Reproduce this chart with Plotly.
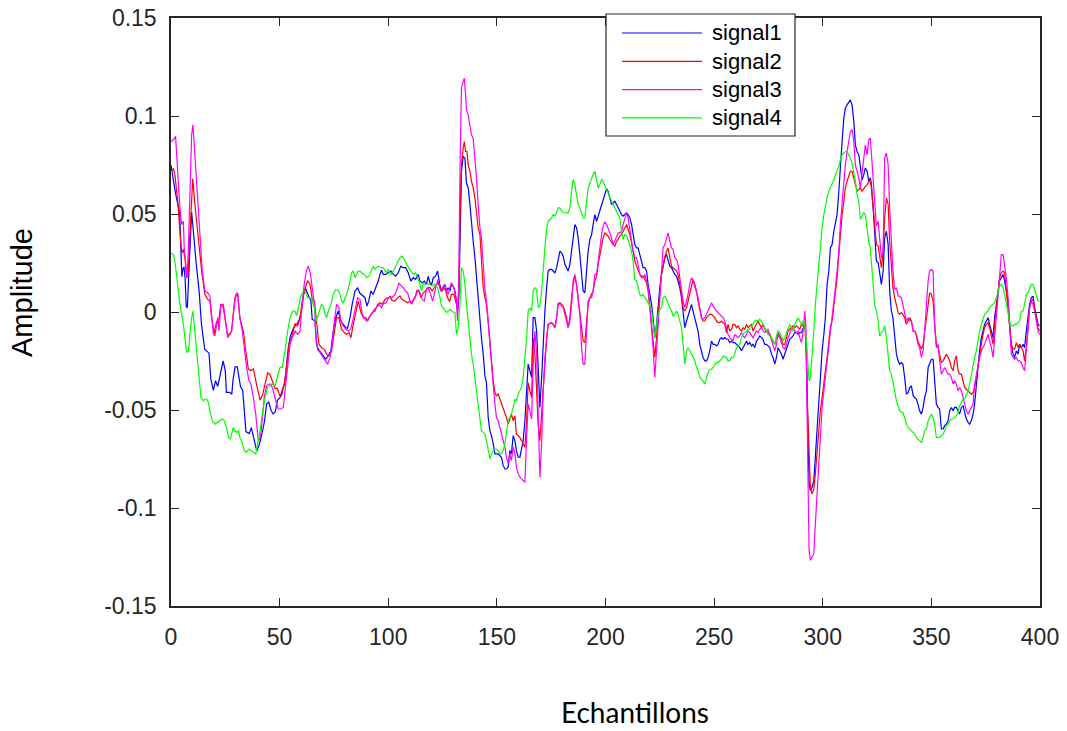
import plotly.graph_objects as go

# ---------------- data (sample index, amplitude) ----------------
SIGNAL1 = [
(0,0.075),(2,0.061),(4,0.050),(5,0.018),(5.5,0.022),(6,0.023),(6.5,0.017),(7,0.003),(7.5,0.002),(8.5,0.025),(9.5,0.051),(11.5,0.026),(13,0.010),(14,-0.006),(15,-0.014),(15.5,-0.019),(17.5,-0.021),(18.3,-0.034),(19.5,-0.040),(20.5,-0.035),(21.5,-0.038),(23,-0.029),(24,-0.025),(25,-0.030),(25.5,-0.041),(27,-0.041),(28,-0.042),(28.5,-0.035),(29.5,-0.028),(30.5,-0.028),(32,-0.038),(33,-0.040),(34.5,-0.061),(36,-0.062),(37,-0.059),(38,-0.064),(39.5,-0.071),(40.5,-0.068),(41.5,-0.064),(43,-0.056),(44,-0.047),(45,-0.046),(46,-0.050),(47,-0.052),(48,-0.051),(49,-0.045),(50,-0.044),(51,-0.042),(52.5,-0.035),(54,-0.018),(55,-0.012),(56.5,-0.008),(58,-0.006),(59,-0.004),(60,0.000),(61,0.009),(62,0.012),(63,0.009),
(64.4,0.0056),(65,-0.0037),(66.3,-0.0046),(67,-0.0165),(67.8,-0.019),(69,-0.0207),(70.1,-0.0224),(71.2,-0.024),(72.4,-0.0224),(73.6,-0.0198),(74.7,-0.0097),(75.8,-0.0029),(77,0.0005),(78.2,-0.0046),(79.3,-0.0063),(80.4,-0.008),(81.3,-0.0083),(82.4,-0.0029),(83.4,0.0039),(84.7,0.0107),(85.9,0.0124),(86.8,0.0098),(87.9,0.0087),(89.3,0.0073),(90.2,0.003),(91.1,0.0059),(92,0.0107),(93.1,0.009),(94.2,0.0124),(95.4,0.0158),(96.2,0.0192),(96.9,0.0214),(97.7,0.0192),(98.8,0.0192),(100,0.02),(101.2,0.0209),(102.3,0.0192),(103.4,0.0183),(104.6,0.02),(105.8,0.0234),(106.9,0.0226),(108,0.0226),(109.2,0.02),(110.4,0.0158),(111.5,0.0175),(112.6,0.0166),(113.8,0.0192),(114.6,0.0158),(115.6,0.0149),(116.6,0.0158),(117.6,0.0141),(118.4,0.0183),(119.2,0.0149),(120,0.0141),(120.7,0.0175),(121.8,0.0183),(122.7,0.0209),(123.3,0.0166),(124.2,0.0107),(125.3,0.0124),
(126.1,0.0141),(126.8,0.0107),(127.6,0.0124),(128.4,0.0107),(129.1,0.0141),(129.9,0.0132),(130.7,0.0107),(131.4,0.0056),(131.9,0.0005),(132.5,0.0073),(133,0.0378),(133.7,0.0718),(134.5,0.0794),(135.3,0.0785),(136,0.0658),(136.8,0.0633),(137.6,0.0548),(138.3,0.0446),(139.1,0.0361),(139.9,0.0277),(140.6,0.0175),(141.4,0.0073),(142.2,-0.0029),(142.9,-0.0131),(143.7,-0.0215),(144.5,-0.0326),(145.2,-0.036),(146,-0.0538),(146.8,-0.0606),(147.5,-0.0631),(148.3,-0.0673),(149.1,-0.0724),(150.6,-0.0724),(151.4,-0.0733),(152.1,-0.0741),(152.9,-0.0784),(153.7,-0.0801),(154.4,-0.0801),(155.2,-0.0792),(156,-0.0707),(156.7,-0.0724),(157.5,-0.0631),(158.3,-0.0656),(159,-0.0707),(159.8,-0.0741),(160.6,-0.0741),(161.3,-0.0707),(162.1,-0.0656),(162.9,-0.0555),(163.7,-0.0402),(164.4,-0.0266),(165.2,-0.03),(166,-0.0334),(166.7,-0.0029),(167.5,-0.0029),(168.3,-0.0097),(169,-0.0266),(169.8,-0.0487),(170.6,-0.0334),(171.3,-0.0148),(172.1,0.0005),(172.9,0.0124),(173.6,0.0209),(174.4,0.0217),(175.2,0.0217),(175.9,0.0209),(176.7,0.02),(177.5,0.0226),(178.2,0.0277),(179,0.031),(179.8,0.0302),(180.5,0.0285),(181.3,0.0243),(182.1,0.0226),(182.8,0.0209),(183.6,0.0243),(184.4,0.031),(185.1,0.0387),(185.9,0.0446),(186.7,0.0429),(187.4,0.0378),(188.2,0.0293),(189,0.0209),(189.7,0.0107),(190.5,0.0098),(191.3,0.0209),(192,0.031),(192.8,0.037),(193.6,0.0395),(194.3,0.0446),(195.1,0.0497),
(195.9,0.0463),(196.6,0.0489),(197.4,0.0514),(198.2,0.0539),(198.9,0.0565),(199.7,0.0599),(200.5,0.0629),(201.2,0.0616),(202,0.0582),(202.8,0.0548),(203.5,0.0556),(204.3,0.0565),(205.1,0.0548),(205.8,0.0531),(206.6,0.0514),(207.4,0.0497),(208.1,0.0489),(208.9,0.0497),(209.7,0.0506),(210.4,0.0497),(211.2,0.048),(212,0.0446),(212.7,0.0404),(213.5,0.0344),(214.3,0.0327),(215,0.0327),(215.8,0.0293),(216.6,0.026),(217.3,0.0226),(218.1,0.0226),(218.9,0.0209),(219.6,0.0141),(220.4,0.009),(221.2,0.0039),(221.9,-0.0029),(222.7,-0.0131),(223.5,-0.0063),(224.2,0.0039),(225,0.0124),(225.8,0.0192),(226.5,0.0243),(227.3,0.0277),(228.1,0.0293),(228.8,0.026),(229.6,0.0234),(230.4,0.0226),(231.1,0.0209),(231.9,0.0192),(232.7,0.0183),(233.4,0.0158),(234.2,0.0124),(235,0.0073),(235.7,0.0005),(236.5,-0.008),(237.3,-0.0046),(238,-0.002),(238.8,0.0005),(239.6,0.0039),(240.3,0.0005),(241.1,-0.0029),(241.9,-0.0063),(242.6,-0.0097),(243.4,-0.0165),(244.2,-0.0198),(244.9,-0.0232),(245.7,-0.0249),(246.5,-0.0249),(247.2,-0.0232),(248,-0.0198),(248.8,-0.0148),(249.5,-0.0165),(250.3,-0.0165),(251.1,-0.0173),(251.8,-0.0165),(252.6,-0.0139),(253.4,-0.0131),(254.1,-0.0139),
(254.9,-0.0131),(255.7,-0.0139),(256.4,-0.0139),(257.2,-0.0156),(258,-0.0148),(258.7,-0.0156),(259.5,-0.0156),(260.3,-0.0165),(261,-0.0173),(261.8,-0.0182),(262.6,-0.0198),(263.3,-0.0182),(264.1,-0.0165),(264.9,-0.0148),(265.6,-0.0165),(266.4,-0.0156),(267.2,-0.0173),(267.9,-0.0165),(268.7,-0.0182),(269.5,-0.0148),(270.2,-0.0139),(271,-0.0122),(271.8,-0.0131),(272.5,-0.0139),(273.3,-0.0165),(274.1,-0.0165),(274.8,-0.0173),(275.6,-0.0182),(276.4,-0.0215),(277.1,-0.0232),(277.9,-0.0266),(278.7,-0.0232),(279.4,-0.0182),(280.2,-0.0198),(281,-0.0215),(281.7,-0.0241),(282.5,-0.0215),(283.3,-0.0182),(284,-0.0165),(284.8,-0.0139),(285.6,-0.0131),(286.3,-0.0122),(287.1,-0.0105),(287.9,-0.0105),(288.7,-0.0114),(289.4,-0.0105),(290.2,-0.0105),(291,-0.008),(291.7,-0.0063),(292.2,-0.0097),(292.8,-0.0402),(293.3,-0.0656),(293.7,-0.0877),(294.3,-0.0911),(295.1,-0.0894),(295.9,-0.086),(296.6,-0.0741),(297.4,-0.0606),(298.2,-0.0453),(298.9,-0.0317),(299.7,-0.0198),(300.5,-0.0114),(301.2,-0.0029),(302,0.0141),(302.8,0.0209),(303.5,0.0327),(304.3,0.0344),(305.1,0.0412),(305.8,0.0463),(306.6,0.0497),(307.4,0.0616),(308.1,0.0751),(308.9,0.087),(309.7,0.0989),(310.4,0.104),(311.2,0.1057),(312,0.1074),(312.7,0.1082),(313.5,0.1057),(314.3,0.0972),(315,0.0853),(315.8,0.0819),(316.6,0.0802),(317.3,0.0735),(318.1,0.0675),(318.9,0.0701),(319.6,0.0735),(320.4,0.0718),(321.2,0.0667),(321.9,0.0684),
(322.4,0.065),(323.2,0.0531),(323.9,0.0395),(324.7,0.026),(325.5,0.0251),(326.2,0.0209),(327,0.0141),(327.8,0.0209),(328.5,0.0378),(329.3,0.0412),(330.1,0.0344),(330.8,0.0107),(331.6,0.0005),(332.3,-0.0029),(333.1,-0.0114),(333.9,-0.0215),(334.7,-0.0249),(335.4,-0.0266),(336.2,-0.0258),(336.9,-0.0266),(337.7,-0.0334),(338.5,-0.0419),(339.3,-0.0411),(340,-0.0385),(340.8,-0.0377),(341.6,-0.0427),(342.3,-0.0436),(343.1,-0.0444),(343.8,-0.047),(344.6,-0.0504),(345.4,-0.0521),(346.2,-0.0487),(346.9,-0.0436),(347.7,-0.0402),(348.5,-0.0283),(349.2,-0.0258),(350,-0.0241),(350.8,-0.0241),(351.5,-0.0334),(352.3,-0.047),(353.1,-0.0487),(353.8,-0.0495),(354.6,-0.0597),(355.4,-0.0597),(356.1,-0.058),(356.9,-0.0572),(357.7,-0.0555),(358.4,-0.0504),(359.2,-0.0487),(360,-0.0504),(360.7,-0.0487),(361.5,-0.0487),(362.3,-0.0504),(363,-0.0521),(363.8,-0.0487),(364.6,-0.0478),(365.3,-0.0512),(366.1,-0.0546),(366.9,-0.0563),(367.6,-0.0572),(368.4,-0.0555),(369.2,-0.0521),(369.9,-0.047),(370.7,-0.0368),(371.5,-0.0266),(372.2,-0.0198),(373,-0.0131),(373.8,-0.0097),(374.5,-0.0063),(375.3,-0.0046),(376.1,-0.0029),(376.8,-0.0063),(377.6,-0.0097),(378.4,-0.0131),(379.1,-0.0029),(379.9,0.0039),(380.7,0.0124),(381.4,0.0158),(382.2,0.0175),(383,0.0192),(383.7,0.0158),(384.5,0.0107),(385.3,0.0056),(386,-0.0063),(386.8,-0.0165),(387.6,-0.0215),(388.3,-0.0232),(389.1,-0.0198),(389.9,-0.0215),(390.6,-0.0165),(391.4,-0.0182),(392.2,-0.0165),(392.9,-0.0182),(393.7,-0.0097),(394.5,-0.0029),(395.2,0.0039),(396,0.0073),(396.8,0.0081),(397.5,0.0022),(398.3,-0.0029),(399.1,-0.0063),(399.8,-0.0071),
]

SIGNAL2 = [
(0,0.072),(1.1,0.073),(1.8,0.070),(3.1,0.0565),(4.1,0.041),(4.9,0.030),(5.7,0.032),(6.4,0.028),(7.2,0.0175),(8,0.021),(8.7,0.0395),(10,0.068),(11,0.055),(12.6,0.036),(14.1,0.021),(15.6,0.009),(16.9,0.0064),(17.9,0.0056),(18.7,-0.003),(19.9,-0.011),(21,-0.0046),(21.8,-0.0063),(22.9,0.0039),(24.1,0.0022),(25.2,-0.0063),(26.1,-0.012),(27.1,-0.011),(27.9,-0.0097),(29.4,0.0073),(30.7,0.009),(31.7,-0.003),(33.3,-0.0097),(34.4,-0.020),(35.6,-0.029),(36.8,-0.030),(37.9,-0.029),(39.4,-0.037),(41,-0.045),(42.2,-0.042),(43.3,-0.037),(44.5,-0.031),(45.6,-0.032),(46.6,-0.035),(47.9,-0.039),(48.9,-0.039),(50.2,-0.043),(50.9,-0.041),(52.1,-0.037),(53.2,-0.028),(54.4,-0.016),(55.5,-0.013),(57.1,-0.006),(58.3,-0.007),(59.4,-0.003),(60.4,0.0056),(61.7,0.012),(62.9,0.016),(64,0.014),(64.7,0.009),
(65,0.0064),(66,0.0056),(67,-0.0063),(68.1,-0.0165),(69.3,-0.0182),(70.6,-0.019),(71.6,-0.0215),(72.7,-0.0224),(73.9,-0.0198),(75.2,-0.0097),(76.2,-0.0029),(77.3,-0.0029),(78.5,-0.0088),(79.8,-0.0105),(80.8,-0.0114),(81.9,-0.0105),(82.8,-0.0131),(83.9,-0.0063),(85,-0.0012),(86.2,0.0056),(87.4,-0.0003),(88.5,-0.0029),(89.6,-0.0029),(90.5,-0.0046),(91.6,-0.002),(92.6,-0.0003),(93.9,0.0005),(95.1,0.0039),(96.2,0.0047),(97.2,0.0039),(98.5,0.0064),(99.7,0.0073),(100.8,0.0076),(101.8,0.0059),(103.1,0.0056),(104.3,0.0073),(105.4,0.0081),(106.4,0.0064),(107.7,0.0056),(108.9,0.0047),(110,0.0056),(111,0.0047),(112.3,0.0073),(113.2,0.011),(114.1,0.0107),(115,0.0073),(116.1,0.0098),(117.2,0.0107),(118.1,0.0124),(119.2,0.0124),(120.2,0.0107),(121.5,0.0132),(122.7,0.0149),(123.8,0.0132),(124.8,0.0107),(126,0.0124),(127.3,0.0073),(128.3,0.0053),(129.1,0.009),(130.2,0.009),
(130.7,0.0073),(131.4,0.0039),(131.9,0.0014),(132.5,0.0124),(133,0.0463),(133.7,0.0751),(134.5,0.0836),(135,0.087),(135.6,0.0819),(136.2,0.0819),(136.8,0.0751),(137.6,0.0718),(138.3,0.0667),(139.1,0.0633),(139.9,0.0582),(140.6,0.0514),(141.4,0.0429),(142.2,0.0395),(142.9,0.0277),(143.7,0.0124),(144.5,0.0073),(145.2,0.0039),(146,-0.0046),(146.8,-0.0165),(147.5,-0.0266),(148.3,-0.0351),(149.1,-0.0411),(149.8,-0.0427),(150.6,-0.0419),(151.4,-0.0444),(152.1,-0.047),(152.9,-0.0487),(153.7,-0.0512),(154.4,-0.0538),(155.2,-0.0572),(156,-0.0546),(156.7,-0.0521),(157.5,-0.0555),(158.3,-0.0529),(159,-0.0623),(159.8,-0.0631),(160.6,-0.064),(161.3,-0.0656),(162.1,-0.0673),(162.9,-0.069),(163.7,-0.0555),(164.4,-0.036),(165.2,-0.0402),(166,-0.0436),(166.7,-0.0131),(167.5,-0.0215),(168.3,-0.0402),(169,-0.0572),(169.8,-0.0656),(170.6,-0.0521),(171.3,-0.0351),(172.1,-0.0232),(172.9,-0.0131),(173.6,-0.0063),(174.4,-0.0058),(175.2,-0.0054),(175.9,-0.0063),(176.7,-0.008),(177.5,-0.0029),(178.2,0.0039),(179,0.0047),(179.8,0.0039),(180.5,0.0031),(181.3,0.0005),(182.1,-0.0029),(182.8,-0.008),(183.6,-0.0029),(184.4,0.0073),(185.1,0.0141),(185.9,0.0183),(186.7,0.0141),(187.4,0.0073),(188.2,0.0005),(189,-0.008),(189.7,-0.0148),(190.5,-0.0156),(191.3,-0.0063),(192,0.0039),(192.8,0.0073),(193.6,0.009),(194.3,0.0107),(195.1,0.0158),
(195.9,0.0183),(196.6,0.0243),(197.4,0.0293),(198.2,0.0327),(198.9,0.0378),(199.7,0.0404),(200.5,0.0395),(201.2,0.0387),(202,0.037),(202.8,0.0353),(203.5,0.0344),(204.3,0.0336),(205.1,0.0361),(205.8,0.037),(206.6,0.0387),(207.4,0.0395),(208.1,0.0412),(208.9,0.0429),(209.7,0.0446),(210.4,0.0421),(211.2,0.0395),(212,0.0353),(212.7,0.031),(213.5,0.026),(214.3,0.0234),(215,0.0217),(215.8,0.0192),(216.6,0.0183),(217.3,0.0183),(218.1,0.0166),(218.9,0.0149),(219.6,0.0107),(220.4,0.0022),(221.2,-0.008),(221.9,-0.0165),(222.7,-0.0232),(223.5,-0.0131),(224.2,0.0005),(225,0.0107),(225.8,0.0192),(226.5,0.0243),(227.3,0.0277),(228.1,0.031),(228.8,0.0327),(229.6,0.0277),(230.4,0.0234),(231.1,0.0226),(231.9,0.0217),(232.7,0.0209),(233.4,0.0192),(234.2,0.0141),(235,0.009),(235.7,0.0022),(236.5,0.0005),(237.3,0.0022),(238,0.0056),(238.8,0.0107),(239.6,0.0141),(240.3,0.0166),(241.1,0.0141),(241.9,0.0107),(242.6,0.0056),(243.4,0.0005),(244.2,-0.0029),(244.9,-0.0046),(245.7,-0.0046),(246.5,-0.0029),(247.2,-0.002),(248,-0.0012),(248.8,-0.0012),(249.5,-0.002),(250.3,-0.0029),(251.1,-0.0046),(251.8,-0.0054),(252.6,-0.0054),(253.4,-0.0046),(254.1,-0.0054),
(254.9,-0.0063),(255.7,-0.0105),(256.4,-0.0063),(257.2,-0.0097),(258,-0.0088),(258.7,-0.0063),(259.5,-0.0063),(260.3,-0.008),(261,-0.0071),(261.8,-0.0088),(262.6,-0.0097),(263.3,-0.008),(264.1,-0.0088),(264.9,-0.0063),(265.6,-0.008),(266.4,-0.0071),(267.2,-0.0063),(267.9,-0.0097),(268.7,-0.008),(269.5,-0.0063),(270.2,-0.0046),(271,-0.0063),(271.8,-0.008),(272.5,-0.0063),(273.3,-0.0088),(274.1,-0.0097),(274.8,-0.0105),(275.6,-0.0114),(276.4,-0.0131),(277.1,-0.0148),(277.9,-0.0165),(278.7,-0.0131),(279.4,-0.0105),(280.2,-0.0122),(281,-0.0139),(281.7,-0.0165),(282.5,-0.0165),(283.3,-0.0131),(284,-0.0097),(284.8,-0.0088),(285.6,-0.008),(286.3,-0.0071),(287.1,-0.008),(287.9,-0.0071),(288.7,-0.008),(289.4,-0.0088),(290.2,-0.0063),(291,-0.0071),(291.7,-0.0063),(292.6,-0.0232),(293,-0.0487),(293.6,-0.0741),(294.3,-0.0894),(295.1,-0.0928),(295.9,-0.0902),(296.6,-0.0826),(297.4,-0.0707),(298.2,-0.0572),(298.9,-0.0504),(299.7,-0.0436),(300.5,-0.0351),(301.2,-0.03),(302,-0.0232),(302.8,-0.0165),(303.5,-0.008),(304.3,-0.0046),(305.1,0.0022),(305.8,0.0107),(306.6,0.0175),(307.4,0.0293),(308.1,0.0412),(308.9,0.0497),(309.7,0.0565),(310.4,0.0633),(311.2,0.0667),(312,0.0701),(312.7,0.0718),(313.5,0.0718),(314.3,0.0684),(315,0.065),(315.8,0.0616),(316.6,0.0624),(317.3,0.0633),(318.1,0.0616),(318.9,0.0633),(319.6,0.0641),(320.4,0.065),(321.2,0.0667),(321.9,0.0675),
(322.4,0.0633),(323.2,0.0531),(323.9,0.0429),(324.7,0.0344),(325.5,0.0336),(326.2,0.0277),(327,0.0226),(327.8,0.0311),(328.5,0.048),(329.3,0.0582),(330.1,0.0548),(330.8,0.0361),(331.6,0.0209),(332.3,0.0124),(333.1,0.0073),(333.9,0.0039),(334.7,-0.0003),(335.4,-0.0012),(336.2,-0.0003),(336.9,-0.0012),(337.7,-0.0029),(338.5,-0.0063),(339.3,-0.0046),(340,-0.0029),(340.8,-0.0046),(341.6,-0.0097),(342.3,-0.0097),(343.1,-0.0114),(343.8,-0.0148),(344.6,-0.0165),(345.4,-0.019),(346.2,-0.0165),(346.9,-0.0097),(347.7,-0.0029),(348.5,0.0056),(349.2,0.0098),(350,0.009),(350.8,0.0056),(351.5,-0.0063),(352.3,-0.0165),(353.1,-0.0182),(353.8,-0.0215),(354.6,-0.0258),(355.4,-0.0249),(356.1,-0.0232),(356.9,-0.0215),(357.7,-0.0232),(358.4,-0.0249),(359.2,-0.0283),(360,-0.03),(360.7,-0.0249),(361.5,-0.0224),(362.3,-0.03),(363,-0.0317),(363.8,-0.0317),(364.6,-0.0351),(365.3,-0.0385),(366.1,-0.0394),(366.9,-0.0402),(367.6,-0.0411),(368.4,-0.0419),(369.2,-0.0411),(369.9,-0.0385),(370.7,-0.0334),(371.5,-0.0266),(372.2,-0.0215),(373,-0.0165),(373.8,-0.0114),(374.5,-0.008),(375.3,-0.0063),(376.1,-0.0054),(376.8,-0.008),(377.6,-0.0131),(378.4,-0.0165),(379.1,-0.0063),(379.9,0.0022),(380.7,0.0107),(381.4,0.0175),(382.2,0.02),(383,0.0209),(383.7,0.02),(384.5,0.0107),(385.3,0.0022),(386,-0.0063),(386.8,-0.0165),(387.6,-0.019),(388.3,-0.019),(389.1,-0.0156),(389.9,-0.0182),(390.6,-0.0165),(391.4,-0.0182),(392.2,-0.0198),(392.9,-0.0249),(393.7,-0.0182),(394.5,-0.008),(395.2,0.0022),(396,0.0056),(396.8,0.0064),(397.5,0.0022),(398.3,-0.0029),(399.1,-0.008),(399.8,-0.0097),
]

SIGNAL3 = [
(0,0.087),(1.1,0.0879),(2.1,0.0896),(3.1,0.0684),(4.1,0.0531),(4.9,0.0446),(5.7,0.0463),(6.1,0.0327),(6.7,0.026),(7.4,0.0175),(8,0.0327),(8.7,0.0616),(9.5,0.0904),(10.1,0.0955),(11,0.0785),(12.3,0.0548),(13.3,0.0378),(14.4,0.0209),(15.6,0.0107),(16.9,0.0098),(17.9,0.0081),(18.7,-0.0029),(19.5,-0.0114),(20.2,-0.0122),(21,-0.0046),(21.5,-0.0029),(22.1,-0.0097),(23,0.0039),(24.1,0.0039),(24.8,-0.0029),(26.1,-0.0131),(27.1,-0.0114),(27.9,-0.0097),(28.7,-0.0012),(29.8,0.009),(30.7,0.0098),(31.7,-0.0029),(32.8,-0.0097),(33.7,-0.0182),(34.8,-0.0283),(35.9,-0.0351),(36.8,-0.0368),(37.9,-0.0436),(39,-0.0521),(40.2,-0.0656),(41.1,-0.064),(42,-0.0555),(42.9,-0.0436),(44,-0.0377),(45.1,-0.0368),(46,-0.0368),(47.1,-0.0402),(48.2,-0.0453),(49.4,-0.0495),(50.6,-0.0495),(51.7,-0.0487),(52.5,-0.0402),(53.7,-0.0283),(54.8,-0.0165),(55.8,-0.0131),(57.1,-0.0097),(58.3,-0.0114),(59.4,-0.0097),(60.1,0.0005),(61.3,0.0141),(62.3,0.0209),(63.2,0.0234),(64.1,0.02),(65,0.0107),(66,0.0039),
(66.6,-0.0114),(67.5,-0.019),(68.6,-0.0207),(69.6,-0.0224),(70.9,-0.0241),(72.1,-0.0266),(73.2,-0.0232),(74.2,-0.0165),(75.2,-0.0046),(76.2,0.0039),(77.3,0.0022),(78.2,-0.0046),(79.3,-0.0071),(80.4,-0.0088),(81.6,-0.0097),(82.7,-0.0088),(83.6,-0.0046),(84.7,0.0005),(85.9,0.0073),(87,0.0064),(88,-0.0012),(89.3,-0.0037),(90,-0.0046),(91.1,-0.0029),(92.3,-0.0012),(93.6,0.0014),(94.6,0.0022),(95.7,0.0039),(96.9,0.0022),(98,0.0047),(98.8,0.0042),(100,0.007),(100.8,0.0081),(101.8,0.0073),(103.1,0.009),(104.3,0.0124),(104.9,0.0149),(106.1,0.0132),(106.9,0.0124),(108,0.0107),(108.9,0.0098),(110,0.0056),(110.7,0.0039),(111.5,0.0064),(112.6,0.0081),(113.8,0.0115),(114.6,0.0098),(115.6,0.0064),(116.6,0.0056),(117.6,0.0115),(118.4,0.0124),(119.5,0.009),(120.4,0.0056),(121.5,0.0107),(122.2,0.0141),(122.9,0.0166),(123.6,0.0124),(124.5,0.0107),(125.8,0.0141),(126.8,0.0107),(127.6,0.009),(128.4,0.0124),(129.1,0.0149),(130.2,0.0124),
(130.7,0.0098),(131.4,0.0056),(131.9,-0.0046),(132.5,0.0175),(133,0.0718),(133.7,0.1142),(134.5,0.1176),(135,0.1193),(135.6,0.1108),(136,0.1031),(136.8,0.1006),(137.6,0.0947),(138.3,0.0904),(139.1,0.0887),(139.9,0.0785),(140.6,0.0684),(141.4,0.0548),(142.2,0.0429),(142.9,0.0378),(143.7,0.0243),(144.5,0.0115),(145.2,0.0056),(146,-0.0063),(146.8,-0.0182),(147.5,-0.0266),(148.3,-0.0368),(149.1,-0.047),(149.8,-0.0538),(150.6,-0.0555),(151.4,-0.0589),(152.1,-0.0623),(152.9,-0.0656),(153.7,-0.069),(154.4,-0.0741),(155.2,-0.0775),(156,-0.0724),(156.7,-0.0758),(157.5,-0.069),(158.3,-0.0724),(159,-0.0792),(159.8,-0.0826),(160.6,-0.0843),(161.3,-0.0852),(162.1,-0.086),(162.9,-0.0869),(163.7,-0.064),(164.4,-0.047),(165.2,-0.0504),(166,-0.0546),(166.7,-0.0266),(167.5,-0.0097),(168.3,-0.0215),(169,-0.047),(169.8,-0.0843),(170.6,-0.0673),(171.3,-0.0402),(172.1,-0.0232),(172.9,-0.0131),(173.6,-0.0063),(174.4,-0.0058),(175.2,-0.0054),(175.9,-0.0063),(176.7,-0.008),(177.5,-0.0029),(178.2,0.0047),(179,0.0039),(179.8,0.0031),(180.5,0.0022),(181.3,-0.0012),(182.1,-0.0046),(182.8,-0.008),(183.6,-0.0046),(184.4,0.0039),(185.1,0.0158),(185.9,0.0192),(186.7,0.0132),(187.4,0.0056),(188.2,-0.0012),(189,-0.0182),(189.7,-0.0266),(190.5,-0.0266),(191.3,-0.0063),(192,0.0056),(192.8,0.0073),(193.6,0.0073),(194.3,0.0107),(195.1,0.0192),
(195.9,0.0192),(196.6,0.026),(197.4,0.0344),(198.2,0.0395),(198.9,0.0438),(199.7,0.046),(200.5,0.0446),(201.2,0.0429),(202,0.0404),(202.8,0.0378),(203.5,0.0344),(204.3,0.0361),(205.1,0.0387),(205.8,0.0404),(206.6,0.0404),(207.4,0.0412),(208.1,0.0446),(208.9,0.048),(209.7,0.0506),(210.4,0.048),(211.2,0.0421),(212,0.0361),(212.7,0.031),(213.5,0.0277),(214.3,0.0277),(215,0.0243),(215.8,0.0192),(216.6,0.0175),(217.3,0.0175),(218.1,0.0192),(218.9,0.0158),(219.6,0.0124),(220.4,0.0039),(221.2,-0.0063),(221.9,-0.0182),(222.7,-0.0334),(223.5,-0.0198),(224.2,-0.0029),(225,0.0107),(225.8,0.0226),(226.5,0.0327),(227.3,0.0344),(228.1,0.0378),(228.8,0.0404),(229.6,0.0361),(230.4,0.0327),(231.1,0.0319),(231.9,0.0277),(232.7,0.0268),(233.4,0.0243),(234.2,0.0175),(235,0.0107),(235.7,0.0056),(236.5,0.0022),(237.3,0.0056),(238,0.009),(238.8,0.0141),(239.6,0.0175),(240.3,0.0158),(241.1,0.0124),(241.9,0.009),(242.6,0.0073),(243.4,0.0022),(244.2,-0.0029),(244.9,-0.0037),(245.7,-0.0029),(246.5,-0.0012),(247.2,0.0005),(248,0.0022),(248.8,0.0047),(249.5,0.0031),(250.3,0.0014),(251.1,0.0005),(251.8,-0.0003),(252.6,-0.0012),(253.4,-0.002),(254.1,-0.0029),(254.9,-0.0046),(255.7,-0.008),(256.4,-0.0114),(257.2,-0.0131),(258,-0.0139),(258.7,-0.0148),
(259.5,-0.0114),(260.3,-0.0122),(261,-0.0131),(261.8,-0.0122),(262.6,-0.0105),(263.3,-0.0122),(264.1,-0.0131),(264.9,-0.0114),(265.6,-0.0097),(266.4,-0.0105),(267.2,-0.0122),(267.9,-0.0131),(268.7,-0.0114),(269.5,-0.0097),(270.2,-0.0105),(271,-0.0088),(271.8,-0.008),(272.5,-0.0097),(273.3,-0.0105),(274.1,-0.0097),(274.8,-0.0088),(275.6,-0.0114),(276.4,-0.0148),(277.1,-0.0165),(277.9,-0.0198),(278.7,-0.0165),(279.4,-0.0114),(280.2,-0.0131),(281,-0.0156),(281.7,-0.0182),(282.5,-0.019),(283.3,-0.0165),(284,-0.0131),(284.8,-0.0105),(285.6,-0.0088),(286.3,-0.008),(287.1,-0.0097),(287.9,-0.0105),(288.7,-0.0097),(289.4,-0.0131),(290.2,-0.0156),(291,-0.0097),(291.7,0.0005),(292.2,-0.0063),(292.6,-0.0402),(293.3,-0.0826),(293.7,-0.1216),(294.3,-0.1267),(295.1,-0.125),(295.9,-0.1233),(296.6,-0.1081),(297.4,-0.0911),(298.2,-0.0741),(298.9,-0.0606),(299.7,-0.0487),(300.5,-0.0402),(301.2,-0.0334),(302,-0.0266),(302.8,-0.0182),(303.5,-0.0131),(304.3,-0.0046),(305.1,0.0039),(305.8,0.0124),(306.6,0.0209),(307.4,0.031),(308.1,0.0446),(308.9,0.0565),(309.7,0.0667),(310.4,0.0751),(311.2,0.0819),(312,0.087),(312.7,0.0921),(313.5,0.093),(314.3,0.087),(315,0.0751),(315.8,0.0718),(316.6,0.0684),(317.3,0.0633),(318.1,0.0701),(318.9,0.0785),(319.6,0.0853),(320.4,0.0802),(321.2,0.0879),(321.9,0.0887),
(322.4,0.0802),(323.2,0.0684),(323.9,0.0548),(324.7,0.0438),(325.5,0.0463),(326.2,0.0361),(327,0.0277),(327.8,0.031),(328.5,0.0785),(329.3,0.0811),(330.1,0.0751),(330.8,0.0531),(331.6,0.0344),(332.3,0.0209),(333.1,0.0115),(333.9,0.0124),(334.7,0.0081),(335.4,0.0081),(336.2,0.0073),(336.9,0.0039),(337.7,-0.0012),(338.5,-0.0046),(339.3,-0.0029),(340,-0.0046),(340.8,-0.0046),(341.6,-0.0097),(342.3,-0.0097),(343.1,-0.0122),(343.8,-0.0165),(344.6,-0.0182),(345.4,-0.0232),(346.2,-0.0198),(346.9,-0.0097),(347.7,0.0022),(348.5,0.0158),(349.2,0.0209),(350,0.0217),(350.8,0.0209),(351.5,-0.0063),(352.3,-0.0182),(353.1,-0.0165),(353.8,-0.0249),(354.6,-0.0317),(355.4,-0.03),(356.1,-0.0283),(356.9,-0.03),(357.7,-0.0317),(358.4,-0.0317),(359.2,-0.0334),(360,-0.0368),(360.7,-0.0351),(361.5,-0.0368),(362.3,-0.0402),(363,-0.0385),(363.8,-0.0402),(364.6,-0.0436),(365.3,-0.047),(366.1,-0.0504),(366.9,-0.0521),(367.6,-0.0504),(368.4,-0.0487),(369.2,-0.047),(369.9,-0.0368),(370.7,-0.0317),(371.5,-0.0266),(372.2,-0.0232),(373,-0.0198),(373.8,-0.0182),(374.5,-0.0165),(375.3,-0.0139),(376.1,-0.0114),(376.8,-0.0148),(377.6,-0.0182),(378.4,-0.0232),(379.1,-0.0131),(379.9,-0.0029),(380.7,0.0107),(381.4,0.0209),(382.2,0.0293),(383,0.0293),(383.7,0.0243),(384.5,0.0175),(385.3,0.0073),(386,-0.0097),(386.8,-0.0215),(387.6,-0.0232),(388.3,-0.0241),(389.1,-0.0232),(389.9,-0.0249),(390.6,-0.0249),(391.4,-0.0258),(392.2,-0.0283),(392.9,-0.03),(393.7,-0.0198),(394.5,-0.0063),(395.2,0.0022),(396,0.0056),(396.8,0.0039),(397.5,0.0005),(398.3,-0.0046),(399.1,-0.0097),(399.8,-0.0114),
]

SIGNAL4 = [
(0,0.030),(1.1,0.0293),(1.8,0.026),(2.6,0.0175),(3.4,0.009),(4.1,0.0039),(4.9,-0.0012),(5.7,-0.0063),(6.4,-0.0131),(7.2,-0.0207),(8,-0.0198),(8.7,-0.0097),(9.5,-0.0029),(10.1,0.0005),(11,-0.0097),(12,-0.0232),(12.9,-0.0334),(13.8,-0.0436),(14.9,-0.0453),(15.6,-0.0444),(16.4,-0.0444),(17.2,-0.0461),(17.9,-0.0504),(19,-0.0555),(20.2,-0.0572),(21.5,-0.0563),(22.5,-0.0555),(23.6,-0.0546),(24.5,-0.0555),(25.6,-0.0589),(26.4,-0.064),(27.3,-0.0648),(27.9,-0.0623),(28.7,-0.0589),(29.4,-0.0606),(30.2,-0.0614),(31,-0.0606),(31.7,-0.064),(32.5,-0.0656),(33.7,-0.0707),(34.8,-0.0716),(35.9,-0.0699),(36.8,-0.0707),(37.9,-0.0716),(39,-0.0724),(39.9,-0.0673),(41,-0.0606),(42,-0.0521),(43.3,-0.0436),(44.5,-0.0385),(45.6,-0.0377),(46.6,-0.0368),(47.9,-0.0377),(49.1,-0.0334),(50.2,-0.0283),(51.2,-0.0283),(52.5,-0.0198),(53.7,-0.0097),(54.8,-0.0029),(56,0.0005),(57.1,0.0005),(57.8,-0.002),(58.6,0.0022),(59.8,0.0081),(60.9,0.0107),(61.7,0.0107),(62.9,0.0073),(64,0.0073),(65,0.0056),(66,0.0022),
(66.3,-0.0012),(67,-0.0046),(67.8,-0.0012),(68.6,0.0022),(69.3,0.0039),(70.1,0.0031),(70.9,-0.0012),(71.6,-0.0029),(72.4,0.0005),(73.6,0.0039),(74.7,0.009),(75.8,0.0115),(77,0.011),(77.8,0.009),(78.5,0.0056),(79.3,0.0047),(80.1,0.0073),(81.3,0.0107),(82.4,0.0158),(83.1,0.02),(83.9,0.0209),(84.7,0.0175),(85.4,0.0192),(86.2,0.0209),(87,0.0209),(87.7,0.02),(89,0.0192),(90,0.0175),(91.1,0.0183),(92,0.0209),(93.1,0.0234),(93.9,0.0217),(94.6,0.0226),(95.7,0.0234),(96.6,0.0226),(97.7,0.0226),(98.5,0.0209),(99.2,0.02),(100,0.0217),(101.2,0.0192),(102.3,0.0209),(103.4,0.0234),(104.3,0.026),(105.4,0.0277),(106.4,0.0285),(107.4,0.0268),(108.4,0.0243),(109.5,0.0226),(110.4,0.0209),(111.5,0.0192),(112.6,0.02),(113.5,0.0175),(114.6,0.0141),(115.3,0.0107),(116.1,0.0149),(116.9,0.0141),(118.1,0.0144),(119.2,0.0141),(120.2,0.0132),(121.5,0.0141),(122.7,0.0124),(123.8,0.0073),(124.5,0.0031),(125.8,0.0014),(126.8,-0.0003),(127.6,0.0005),(128.7,0.0014),(129.4,0.0002),(130.7,-0.0003),
(131.4,-0.0114),(132.2,-0.008),(133,0.0039),(133.7,0.0226),(134.5,0.0209),(135.3,0.0141),(136,0.0039),(136.8,-0.0063),(137.6,-0.0131),(138.3,-0.0215),(139.1,-0.0266),(139.9,-0.0334),(140.6,-0.0402),(141.4,-0.047),(142.2,-0.0538),(142.9,-0.0606),(143.7,-0.0614),(144.5,-0.0623),(145.2,-0.0656),(146,-0.0707),(146.8,-0.075),(147.5,-0.0724),(148.3,-0.0707),(149.1,-0.0699),(149.8,-0.0699),(150.6,-0.0707),(151.4,-0.0724),(152.1,-0.0724),(152.9,-0.0707),(153.7,-0.0673),(154.4,-0.0623),(155.2,-0.0555),(156,-0.0538),(156.7,-0.0521),(157.5,-0.0487),(158.3,-0.0444),(159,-0.0453),(159.8,-0.0419),(160.6,-0.0402),(161.3,-0.0385),(162.1,-0.0334),(162.9,-0.0249),(163.7,-0.0131),(164.4,0.0005),(165.2,0.0022),(166,0.0005),(166.7,0.0107),(167.5,0.0124),(168.3,0.0115),(169,0.0022),(169.8,0.0031),(170.6,0.0107),(171.3,0.0226),(172.1,0.0327),(172.9,0.0429),(173.6,0.0463),(174.4,0.0472),(175.2,0.048),(175.9,0.0497),(176.7,0.0489),(177.5,0.0506),(178.2,0.0531),(179,0.0531),(179.8,0.0514),(180.5,0.0509),(181.3,0.0506),(182.1,0.0506),(182.8,0.0506),(183.6,0.0531),(184.4,0.0616),(185.1,0.0675),(185.9,0.065),(186.7,0.0599),(187.4,0.0548),(188.2,0.0531),(189,0.0506),(189.7,0.048),(190.5,0.048),(191.3,0.0582),(192,0.0633),(192.8,0.0658),(193.6,0.0684),(194.3,0.0701),(195.1,0.0718),
(195.9,0.0667),(196.6,0.0633),(197.4,0.065),(198.2,0.0675),(198.9,0.0667),(199.7,0.0641),(200.5,0.0624),(201.2,0.0607),(202,0.059),(202.8,0.0565),(203.5,0.0548),(204.3,0.0531),(205.1,0.0514),(205.8,0.0497),(206.6,0.048),(207.4,0.0412),(208.1,0.037),(208.9,0.0395),(209.7,0.0387),(210.4,0.037),(211.2,0.0344),(212,0.031),(212.7,0.026),(213.5,0.0166),(214.3,0.0158),(215,0.0124),(215.8,0.009),(216.6,0.0081),(217.3,0.009),(218.1,0.0073),(218.9,0.0064),(219.6,0.0047),(220.4,0.0031),(221.2,0.0005),(221.9,-0.0063),(222.7,-0.0131),(223.5,-0.0063),(224.2,-0.0012),(225,0.0014),(225.8,0.0022),(226.5,0.0073),(227.3,0.0081),(228.1,0.0064),(228.8,0.0039),(229.6,0.0022),(230.4,0.0005),(231.1,-0.002),(231.9,-0.0012),(232.7,0.0005),(233.4,-0.0012),(234.2,-0.0046),(235,-0.008),(235.7,-0.0165),(236.5,-0.0266),(237.3,-0.0198),(238,-0.0182),(238.8,-0.0198),(239.6,-0.0215),(240.3,-0.0232),(241.1,-0.0249),(241.9,-0.0283),(242.6,-0.03),(243.4,-0.0334),(244.2,-0.0343),(244.9,-0.0351),(245.7,-0.0368),(246.5,-0.0334),(247.2,-0.0309),(248,-0.0292),(248.8,-0.0292),(249.5,-0.0283),(250.3,-0.0266),(251.1,-0.0258),(251.8,-0.0258),(252.6,-0.0249),(253.4,-0.0241),(254.1,-0.0224),(254.9,-0.0232),
(255.7,-0.0232),(256.4,-0.0249),(257.2,-0.0249),(258,-0.0232),(258.7,-0.0232),(259.5,-0.0215),(260.3,-0.0182),(261,-0.0173),(261.8,-0.0165),(262.6,-0.0131),(263.3,-0.0114),(264.1,-0.0105),(264.9,-0.0097),(265.6,-0.0088),(266.4,-0.0088),(267.2,-0.0071),(267.9,-0.0063),(268.7,-0.0046),(269.5,-0.0042),(270.2,-0.0046),(271,-0.0037),(271.8,-0.0046),(272.5,-0.0063),(273.3,-0.008),(274.1,-0.0097),(274.8,-0.0114),(275.6,-0.0122),(276.4,-0.0131),(277.1,-0.0148),(277.9,-0.0165),(278.7,-0.0122),(279.4,-0.0097),(280.2,-0.0105),(281,-0.0122),(281.7,-0.0148),(282.5,-0.0131),(283.3,-0.0105),(284,-0.008),(284.8,-0.0063),(285.6,-0.008),(286.3,-0.0097),(287.1,-0.0063),(287.9,-0.0046),(288.7,-0.0029),(289.4,-0.0046),(290.2,-0.0063),(291,-0.0046),(291.7,-0.0063),(292.6,-0.0165),(293.3,-0.03),(293.7,-0.0351),(294.3,-0.0334),(295.1,-0.0232),(295.9,-0.0097),(296.6,0.0039),(297.4,0.0141),(298.2,0.0243),(298.9,0.0344),(299.7,0.0429),(300.5,0.0497),(301.2,0.0548),(302,0.0582),(302.8,0.0616),(303.5,0.0633),(304.3,0.0658),(305.1,0.0675),(305.8,0.0701),(306.6,0.0718),(307.4,0.0743),(308.1,0.0777),(308.9,0.0802),(309.7,0.0811),(310.4,0.0819),(311.2,0.0819),(312,0.0802),(312.7,0.0785),(313.5,0.076),(314.3,0.0718),(315,0.0667),(315.8,0.0599),(316.6,0.0565),(317.3,0.0472),(318.1,0.0489),(318.9,0.0506),(319.6,0.0497),(320.4,0.0412),(321.2,0.0353),(321.9,0.0327),
(322.4,0.0243),(323.2,0.0141),(323.9,0.0039),(324.7,0.0005),(325.5,-0.0046),(326.2,-0.0122),(327,-0.0105),(327.8,-0.0097),(328.5,-0.0071),(329.3,-0.0131),(330.1,-0.0232),(330.8,-0.03),(331.6,-0.0317),(332.3,-0.0351),(333.1,-0.0402),(333.9,-0.0453),(334.7,-0.0487),(335.4,-0.0504),(336.2,-0.0512),(336.9,-0.0512),(337.7,-0.0538),(338.5,-0.0572),(339.3,-0.0589),(340,-0.0597),(340.8,-0.0606),(341.6,-0.0614),(342.3,-0.0623),(343.1,-0.064),(343.8,-0.0648),(344.6,-0.0656),(345.4,-0.0665),(346.2,-0.064),(346.9,-0.0606),(347.7,-0.0597),(348.5,-0.0555),(349.2,-0.0538),(350,-0.0521),(350.8,-0.0538),(351.5,-0.0572),(352.3,-0.064),(353.1,-0.064),(353.8,-0.064),(354.6,-0.0631),(355.4,-0.0623),(356.1,-0.0606),(356.9,-0.058),(357.7,-0.0572),(358.4,-0.0555),(359.2,-0.0546),(360,-0.0546),(360.7,-0.0538),(361.5,-0.0529),(362.3,-0.0512),(363,-0.0478),(363.8,-0.0461),(364.6,-0.0444),(365.3,-0.0444),(366.1,-0.0419),(366.9,-0.0402),(367.6,-0.0368),(368.4,-0.0317),(369.2,-0.0266),(369.9,-0.0232),(370.7,-0.0198),(371.5,-0.0131),(372.2,-0.0097),(373,-0.0063),(373.8,-0.0029),(374.5,-0.0012),(375.3,-0.0003),(376.1,0.0005),(376.8,0.0022),(377.6,0.0031),(378.4,0.0039),(379.1,0.0047),(379.9,0.0073),(380.7,0.0107),(381.4,0.0132),(382.2,0.0141),(383,0.0124),(383.7,0.009),(384.5,0.0039),(385.3,-0.0012),(386,-0.0046),(386.8,-0.0071),(387.6,-0.0071),(388.3,-0.0063),(389.1,-0.0063),(389.9,-0.0054),(390.6,-0.0046),(391.4,0.0005),(392.2,0.0005),(392.9,0.0039),(393.7,0.009),(394.5,0.0098),(395.2,0.0115),(396,0.0141),(396.8,0.0141),(397.5,0.0115),(398.3,0.0081),(399.1,0.0056),(399.8,0.0056),
]

SERIES_NAMES = ["signal1", "signal2", "signal3", "signal4"]
SERIES_COLORS = ["#0000FF", "#FF0000", "#FF00FF", "#00FF00"]

X_TICKS = [0, 50, 100, 150, 200, 250, 300, 350, 400]
X_TICK_LABELS = ["0", "50", "100", "150", "200", "250", "300", "350", "400"]
Y_TICKS = [-0.15, -0.1, -0.05, 0, 0.05, 0.1, 0.15]
Y_TICK_LABELS = ["-0.15", "-0.1", "-0.05", "0", "0.05", "0.1", "0.15"]
X_TITLE = "Echantillons"
Y_TITLE = "Amplitude"

# ---------------- figure ----------------
W, H = 1067, 731
L, R, T, B = 171, 27, 18, 125
PW, PH = W - L - R, H - T - B

def px(x):  # pixel x -> paper
    return (x - L) / PW

def py(y):  # pixel y -> paper
    return (H - B - y) / PH

AX = "#262626"
fig = go.Figure()
for name, data, color in zip(SERIES_NAMES, [SIGNAL1, SIGNAL2, SIGNAL3, SIGNAL4], SERIES_COLORS):
    pts = sorted(data)
    fig.add_trace(go.Scatter(
        x=[p[0] for p in pts], y=[p[1] for p in pts], mode="lines", name=name,
        line=dict(color=color, width=1.2), showlegend=False, hoverinfo="skip"))

axis_common = dict(
    showgrid=False, zeroline=False, showline=True, linecolor=AX, linewidth=1.5,
    mirror="allticks", ticks="inside", ticklen=8, tickwidth=1.3, tickcolor=AX,
    tickfont=dict(family="Liberation Sans, Arial, sans-serif", size=23, color=AX),
)
fig.update_xaxes(range=[0, 400], tickmode="array", tickvals=X_TICKS, ticktext=X_TICK_LABELS,
                 ticklabelstandoff=10, **axis_common)
fig.update_yaxes(range=[-0.15, 0.15], tickmode="array", tickvals=Y_TICKS, ticktext=Y_TICK_LABELS,
                 ticklabelstandoff=8, **axis_common)

shapes = []
annotations = []
# legend box (MATLAB style)
shapes.append(dict(type="rect", xref="paper", yref="paper",
                   x0=px(606), x1=px(795), y0=py(136), y1=py(14),
                   line=dict(color=AX, width=1.2), fillcolor="white", layer="above"))
for i, (name, color) in enumerate(zip(SERIES_NAMES, SERIES_COLORS)):
    ry = 33 + i * 28.3
    shapes.append(dict(type="line", xref="paper", yref="paper",
                       x0=px(622), x1=px(702), y0=py(ry), y1=py(ry),
                       line=dict(color=color, width=1.2), layer="above"))
    annotations.append(dict(text=name, xref="paper", yref="paper", x=px(710), y=py(ry),
                            xanchor="left", yanchor="middle", showarrow=False,
                            font=dict(family="Liberation Sans, Arial, sans-serif", size=22, color="#000000")))

annotations.append(dict(text=X_TITLE, xref="paper", yref="paper", x=px(635), y=py(712),
                        xanchor="center", yanchor="middle", showarrow=False,
                        font=dict(family="Lato, sans-serif", size=28, color="#000000")))
annotations.append(dict(text=Y_TITLE, xref="paper", yref="paper", x=px(22), y=py(293),
                        xanchor="center", yanchor="middle", showarrow=False, textangle=-90,
                        font=dict(family="Liberation Sans, Arial, sans-serif", size=29, color="#000000")))

fig.update_layout(
    width=W, height=H,
    margin=dict(l=L, r=R, t=T, b=B, autoexpand=False),
    plot_bgcolor="white", paper_bgcolor="white",
    showlegend=False, shapes=shapes, annotations=annotations,
)

fig.write_html("out.html")
